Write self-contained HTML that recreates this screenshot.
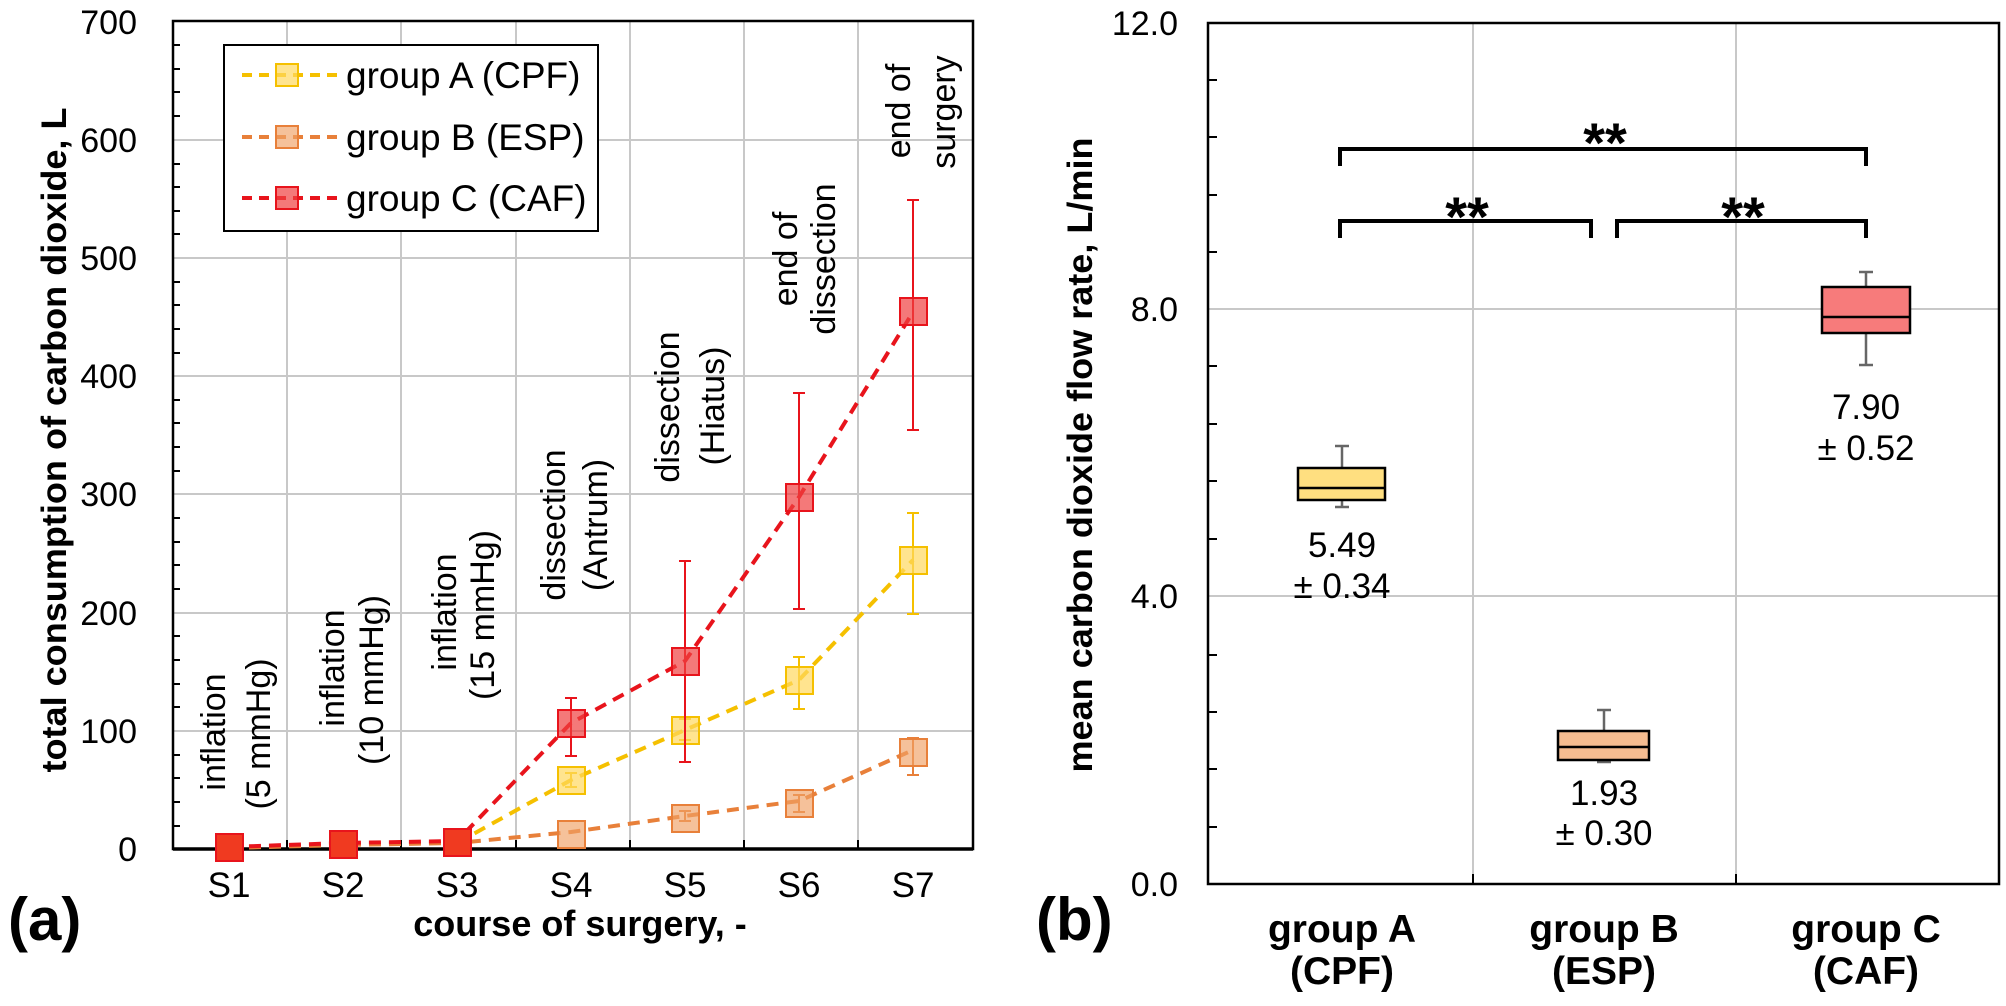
<!DOCTYPE html>
<html><head><meta charset="utf-8"><style>
html,body{margin:0;padding:0;background:#fff;}
svg{display:block;}
text{font-family:"Liberation Sans",Arial,sans-serif;fill:#000;}
</style></head><body>
<svg width="2006" height="1006" viewBox="0 0 2006 1006" xmlns="http://www.w3.org/2000/svg">
<g stroke="#c8c8c8" stroke-width="2">
  <line x1="173" y1="140" x2="973" y2="140"/><line x1="173" y1="258" x2="973" y2="258"/>
  <line x1="173" y1="376" x2="973" y2="376"/><line x1="173" y1="494" x2="973" y2="494"/>
  <line x1="173" y1="613" x2="973" y2="613"/><line x1="173" y1="731" x2="973" y2="731"/>
  <line x1="287" y1="21" x2="287" y2="849"/><line x1="401" y1="21" x2="401" y2="849"/>
  <line x1="516" y1="21" x2="516" y2="849"/><line x1="630" y1="21" x2="630" y2="849"/>
  <line x1="744" y1="21" x2="744" y2="849"/><line x1="858" y1="21" x2="858" y2="849"/>
</g>
<g stroke="#000" stroke-width="2">
  <line x1="173" y1="45" x2="180" y2="45"/><line x1="173" y1="69" x2="180" y2="69"/><line x1="173" y1="92" x2="180" y2="92"/><line x1="173" y1="116" x2="180" y2="116"/>
  <line x1="173" y1="164" x2="180" y2="164"/><line x1="173" y1="187" x2="180" y2="187"/><line x1="173" y1="211" x2="180" y2="211"/><line x1="173" y1="234" x2="180" y2="234"/>
  <line x1="173" y1="282" x2="180" y2="282"/><line x1="173" y1="305" x2="180" y2="305"/><line x1="173" y1="329" x2="180" y2="329"/><line x1="173" y1="353" x2="180" y2="353"/>
  <line x1="173" y1="400" x2="180" y2="400"/><line x1="173" y1="423" x2="180" y2="423"/><line x1="173" y1="447" x2="180" y2="447"/><line x1="173" y1="471" x2="180" y2="471"/>
  <line x1="173" y1="518" x2="180" y2="518"/><line x1="173" y1="542" x2="180" y2="542"/><line x1="173" y1="565" x2="180" y2="565"/><line x1="173" y1="589" x2="180" y2="589"/>
  <line x1="173" y1="636" x2="180" y2="636"/><line x1="173" y1="660" x2="180" y2="660"/><line x1="173" y1="684" x2="180" y2="684"/><line x1="173" y1="707" x2="180" y2="707"/>
  <line x1="173" y1="755" x2="180" y2="755"/><line x1="173" y1="778" x2="180" y2="778"/><line x1="173" y1="802" x2="180" y2="802"/><line x1="173" y1="826" x2="180" y2="826"/>
  <line x1="287" y1="849" x2="287" y2="840"/><line x1="401" y1="849" x2="401" y2="840"/><line x1="516" y1="849" x2="516" y2="840"/>
  <line x1="630" y1="849" x2="630" y2="840"/><line x1="744" y1="849" x2="744" y2="840"/><line x1="858" y1="849" x2="858" y2="840"/>
</g>
<rect x="173" y="21" width="800" height="828" fill="none" stroke="#000" stroke-width="2.5"/>
<line x1="173" y1="849" x2="973" y2="849" stroke="#000" stroke-width="3.5"/>

<g font-size="34" text-anchor="end">
  <text x="137" y="34">700</text><text x="137" y="152">600</text><text x="137" y="270">500</text>
  <text x="137" y="388">400</text><text x="137" y="506">300</text><text x="137" y="625">200</text>
  <text x="137" y="743">100</text><text x="137" y="861">0</text>
</g>
<g font-size="35" text-anchor="middle">
  <text x="229" y="897">S1</text><text x="343" y="897">S2</text><text x="457" y="897">S3</text>
  <text x="571" y="897">S4</text><text x="685" y="897">S5</text><text x="799" y="897">S6</text><text x="913" y="897">S7</text>
</g>
<text x="580" y="936" font-size="36" font-weight="bold" text-anchor="middle">course of surgery, -</text>
<text transform="translate(66,440) rotate(-90)" font-size="35" font-weight="bold" text-anchor="middle" textLength="665" lengthAdjust="spacingAndGlyphs">total consumption of carbon dioxide, L</text>
<text x="8" y="940" font-size="60" font-weight="bold">(a)</text>

<g font-size="34" text-anchor="middle">
  <text transform="translate(225,732) rotate(-90)">inflation</text>
  <text transform="translate(270,734) rotate(-90)">(5 mmHg)</text>
  <text transform="translate(344,668) rotate(-90)">inflation</text>
  <text transform="translate(383,680) rotate(-90)">(10 mmHg)</text>
  <text transform="translate(456,612) rotate(-90)">inflation</text>
  <text transform="translate(494,615) rotate(-90)">(15 mmHg)</text>
  <text transform="translate(565,525) rotate(-90)">dissection</text>
  <text transform="translate(607,525) rotate(-90)">(Antrum)</text>
  <text transform="translate(679,407) rotate(-90)">dissection</text>
  <text transform="translate(724,406) rotate(-90)">(Hiatus)</text>
  <text transform="translate(797,259) rotate(-90)">end of</text>
  <text transform="translate(835,259) rotate(-90)">dissection</text>
  <text transform="translate(910,111) rotate(-90)">end of</text>
  <text transform="translate(955,112) rotate(-90)">surgery</text>
</g>

<g>
  <polyline points="229,848 343,845 457,843 571,832 685,816 799,801 913,750" fill="none" stroke="#e8803a" stroke-width="4" stroke-dasharray="12,8"/>
  <g stroke="#e8803a" stroke-width="2" fill="none">
    <line x1="685" y1="811" x2="685" y2="821"/><line x1="679" y1="811" x2="691" y2="811"/><line x1="679" y1="821" x2="691" y2="821"/>
    <line x1="799" y1="795" x2="799" y2="812"/><line x1="793" y1="795" x2="805" y2="795"/><line x1="793" y1="812" x2="805" y2="812"/>
    <line x1="913" y1="738" x2="913" y2="775"/><line x1="907" y1="738" x2="919" y2="738"/><line x1="907" y1="775" x2="919" y2="775"/>
  </g>
  <g fill="#f0a064" fill-opacity="0.65" stroke="#e8803a" stroke-width="2">
    <rect x="558" y="821" width="27" height="27"/><rect x="672" y="805" width="27" height="27"/>
    <rect x="786" y="790" width="27" height="27"/><rect x="900" y="739" width="27" height="27"/>
  </g>
</g>
<g>
  <polyline points="457,843 571,780 685,730 799,680 913,560" fill="none" stroke="#f5c000" stroke-width="4" stroke-dasharray="12,8"/>
  <g stroke="#f5c000" stroke-width="2">
    <line x1="571" y1="773" x2="571" y2="787"/><line x1="565" y1="773" x2="577" y2="773"/><line x1="565" y1="787" x2="577" y2="787"/>
    <line x1="685" y1="719" x2="685" y2="740"/><line x1="679" y1="719" x2="691" y2="719"/><line x1="679" y1="740" x2="691" y2="740"/>
    <line x1="799" y1="657" x2="799" y2="709"/><line x1="793" y1="657" x2="805" y2="657"/><line x1="793" y1="709" x2="805" y2="709"/>
    <line x1="913" y1="513" x2="913" y2="614"/><line x1="907" y1="513" x2="919" y2="513"/><line x1="907" y1="614" x2="919" y2="614"/>
  </g>
  <g fill="#ffd860" fill-opacity="0.7" stroke="#f5c000" stroke-width="2">
    <rect x="558" y="767" width="27" height="27"/><rect x="672" y="717" width="27" height="27"/>
    <rect x="786" y="667" width="27" height="27"/><rect x="900" y="547" width="27" height="27"/>
  </g>
</g>
<g>
  <polyline points="229,847 343,843 457,841 571,723 685,661 799,497 913,312" fill="none" stroke="#e8141c" stroke-width="4" stroke-dasharray="12,8"/>
  <g stroke="#e8141c" stroke-width="2">
    <line x1="571" y1="698" x2="571" y2="756"/><line x1="565" y1="698" x2="577" y2="698"/><line x1="565" y1="756" x2="577" y2="756"/>
    <line x1="685" y1="561" x2="685" y2="762"/><line x1="679" y1="561" x2="691" y2="561"/><line x1="679" y1="762" x2="691" y2="762"/>
    <line x1="799" y1="393" x2="799" y2="609"/><line x1="793" y1="393" x2="805" y2="393"/><line x1="793" y1="609" x2="805" y2="609"/>
    <line x1="913" y1="200" x2="913" y2="430"/><line x1="907" y1="200" x2="919" y2="200"/><line x1="907" y1="430" x2="919" y2="430"/>
  </g>
  <g fill="#f04040" fill-opacity="0.7" stroke="#e8141c" stroke-width="2">
    <rect x="558" y="710" width="27" height="27"/><rect x="672" y="648" width="27" height="27"/>
    <rect x="786" y="484" width="27" height="27"/><rect x="900" y="298" width="27" height="27"/>
  </g>
  <g fill="#f03a20" stroke="#e8141c" stroke-width="2">
    <rect x="216" y="834" width="27" height="27"/><rect x="330" y="831" width="27" height="27"/><rect x="444" y="829" width="27" height="27"/>
  </g>
</g>

<rect x="224" y="45" width="374" height="186" fill="#fff" stroke="#000" stroke-width="2"/>
<g stroke-width="4" stroke-dasharray="10,7">
  <line x1="242" y1="75" x2="337" y2="75" stroke="#f5c000"/>
  <line x1="242" y1="137" x2="337" y2="137" stroke="#e8803a"/>
  <line x1="242" y1="198" x2="337" y2="198" stroke="#e8141c"/>
</g>
<rect x="276" y="64" width="22" height="22" fill="#ffd860" fill-opacity="0.7" stroke="#f5c000" stroke-width="2"/>
<rect x="276" y="126" width="22" height="22" fill="#f0a064" fill-opacity="0.65" stroke="#e8803a" stroke-width="2"/>
<rect x="276" y="187" width="22" height="22" fill="#f04040" fill-opacity="0.7" stroke="#e8141c" stroke-width="2"/>
<g font-size="37">
  <text x="346" y="88">group A (CPF)</text>
  <text x="346" y="150">group B (ESP)</text>
  <text x="346" y="211">group C (CAF)</text>
</g>

<g stroke="#c8c8c8" stroke-width="2">
  <line x1="1208" y1="309" x2="1999" y2="309"/><line x1="1208" y1="596" x2="1999" y2="596"/>
  <line x1="1473" y1="23" x2="1473" y2="884"/><line x1="1736" y1="23" x2="1736" y2="884"/>
</g>
<g stroke="#000" stroke-width="2">
  <line x1="1208" y1="80" x2="1217" y2="80"/><line x1="1208" y1="137" x2="1217" y2="137"/><line x1="1208" y1="195" x2="1217" y2="195"/><line x1="1208" y1="252" x2="1217" y2="252"/>
  <line x1="1208" y1="366" x2="1217" y2="366"/><line x1="1208" y1="424" x2="1217" y2="424"/><line x1="1208" y1="481" x2="1217" y2="481"/><line x1="1208" y1="539" x2="1217" y2="539"/>
  <line x1="1208" y1="655" x2="1217" y2="655"/><line x1="1208" y1="712" x2="1217" y2="712"/><line x1="1208" y1="769" x2="1217" y2="769"/><line x1="1208" y1="827" x2="1217" y2="827"/>
  <line x1="1473" y1="884" x2="1473" y2="874"/><line x1="1736" y1="884" x2="1736" y2="874"/>
</g>
<rect x="1208" y="23" width="791" height="861" fill="none" stroke="#000" stroke-width="2.5"/>
<g font-size="34" text-anchor="end">
  <text x="1178" y="35">12.0</text><text x="1178" y="321">8.0</text>
  <text x="1178" y="608">4.0</text><text x="1178" y="896">0.0</text>
</g>
<text transform="translate(1092,455) rotate(-90)" font-size="35" font-weight="bold" text-anchor="middle" textLength="635" lengthAdjust="spacingAndGlyphs">mean carbon dioxide  flow rate, L/min</text>
<text x="1036" y="940" font-size="60" font-weight="bold">(b)</text>
<g font-size="39" font-weight="bold" text-anchor="middle">
  <text x="1342" y="942">group A</text><text x="1342" y="984">(CPF)</text>
  <text x="1604" y="942">group B</text><text x="1604" y="984">(ESP)</text>
  <text x="1866" y="942">group C</text><text x="1866" y="984">(CAF)</text>
</g>
<g stroke="#666" stroke-width="2.5">
  <line x1="1342" y1="446" x2="1342" y2="507"/><line x1="1335" y1="446" x2="1349" y2="446"/><line x1="1335" y1="507" x2="1349" y2="507"/>
  <line x1="1604" y1="710" x2="1604" y2="762"/><line x1="1597" y1="710" x2="1611" y2="710"/><line x1="1597" y1="762" x2="1611" y2="762"/>
  <line x1="1866" y1="272" x2="1866" y2="365"/><line x1="1859" y1="272" x2="1873" y2="272"/><line x1="1859" y1="365" x2="1873" y2="365"/>
</g>
<g stroke="#000" stroke-width="2.5">
  <rect x="1298" y="468" width="87" height="32" fill="#ffdf80"/><line x1="1298" y1="488" x2="1385" y2="488"/>
  <rect x="1558" y="731" width="91" height="29" fill="#f5bc90"/><line x1="1558" y1="747" x2="1649" y2="747"/>
  <rect x="1822" y="287" width="88" height="46" fill="#f77b7b"/><line x1="1822" y1="317" x2="1910" y2="317"/>
</g>
<g font-size="35" text-anchor="middle">
  <text x="1342" y="557">5.49</text><text x="1342" y="598">± 0.34</text>
  <text x="1604" y="805">1.93</text><text x="1604" y="845">± 0.30</text>
  <text x="1866" y="419">7.90</text><text x="1866" y="460">± 0.52</text>
</g>
<g fill="none" stroke="#000" stroke-width="4">
  <polyline points="1340,166 1340,149 1866,149 1866,166"/>
  <polyline points="1340,238 1340,221 1591,221 1591,238"/>
  <polyline points="1617,238 1617,221 1866,221 1866,238"/>
</g>
<g font-size="56" font-weight="bold" text-anchor="middle">
  <text x="1605" y="162">**</text>
  <text x="1467" y="236">**</text>
  <text x="1743" y="236">**</text>
</g>
</svg>
</body></html>
